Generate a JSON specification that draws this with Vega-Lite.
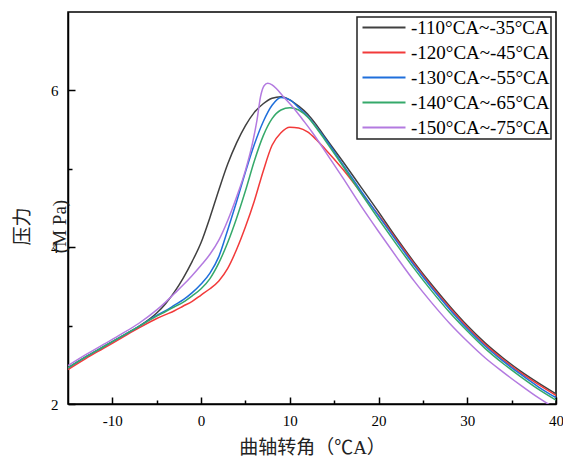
{
  "$schema": "https://vega.github.io/schema/vega-lite/v6.json",
  "width": 488,
  "height": 392,
  "autosize": {"type": "none"},
  "padding": {"left": 68, "top": 12, "right": 7, "bottom": 53},
  "background": "white",
  "config": {
    "view": {"stroke": "#000", "strokeWidth": 1.5},
    "axis": {"labelFont": "Liberation Serif", "titleFont": "Liberation Serif, Noto Sans CJK SC", "labelColor": "#000", "titleColor": "#222", "domainColor": "#000", "tickColor": "#000", "tickOpacity": 1, "domainWidth": 1.5, "tickWidth": 1.5, "grid": false, "labelFontSize": 15, "titleFontSize": 19, "titleFontWeight": "normal", "zindex": 1},
    "legend": {"labelFont": "Liberation Serif", "labelFontSize": 19, "labelColor": "#000"}
  },
  "data": {"values": [
    {"s":"-110°CA~-35°CA","x":-15,"y":2.46},{"s":"-110°CA~-35°CA","x":-13,"y":2.60},{"s":"-110°CA~-35°CA","x":-11,"y":2.73},{"s":"-110°CA~-35°CA","x":-9,"y":2.86},{"s":"-110°CA~-35°CA","x":-7,"y":2.99},{"s":"-110°CA~-35°CA","x":-5,"y":3.16},{"s":"-110°CA~-35°CA","x":-4,"y":3.28},{"s":"-110°CA~-35°CA","x":-3,"y":3.43},{"s":"-110°CA~-35°CA","x":-2,"y":3.61},{"s":"-110°CA~-35°CA","x":-1,"y":3.82},{"s":"-110°CA~-35°CA","x":0,"y":4.06},{"s":"-110°CA~-35°CA","x":1,"y":4.38},{"s":"-110°CA~-35°CA","x":2,"y":4.73},{"s":"-110°CA~-35°CA","x":3,"y":5.06},{"s":"-110°CA~-35°CA","x":4,"y":5.33},{"s":"-110°CA~-35°CA","x":5,"y":5.55},{"s":"-110°CA~-35°CA","x":6,"y":5.72},{"s":"-110°CA~-35°CA","x":7,"y":5.83},{"s":"-110°CA~-35°CA","x":8,"y":5.90},{"s":"-110°CA~-35°CA","x":9,"y":5.92},{"s":"-110°CA~-35°CA","x":10,"y":5.88},{"s":"-110°CA~-35°CA","x":11,"y":5.80},{"s":"-110°CA~-35°CA","x":12,"y":5.70},{"s":"-110°CA~-35°CA","x":13,"y":5.56},{"s":"-110°CA~-35°CA","x":14,"y":5.40},{"s":"-110°CA~-35°CA","x":16,"y":5.09},{"s":"-110°CA~-35°CA","x":18,"y":4.77},{"s":"-110°CA~-35°CA","x":20,"y":4.45},{"s":"-110°CA~-35°CA","x":22,"y":4.12},{"s":"-110°CA~-35°CA","x":24,"y":3.81},{"s":"-110°CA~-35°CA","x":26,"y":3.52},{"s":"-110°CA~-35°CA","x":28,"y":3.25},{"s":"-110°CA~-35°CA","x":30,"y":3.00},{"s":"-110°CA~-35°CA","x":32,"y":2.78},{"s":"-110°CA~-35°CA","x":34,"y":2.59},{"s":"-110°CA~-35°CA","x":36,"y":2.42},{"s":"-110°CA~-35°CA","x":38,"y":2.27},{"s":"-110°CA~-35°CA","x":40,"y":2.13},

    {"s":"-120°CA~-45°CA","x":-15,"y":2.44},{"s":"-120°CA~-45°CA","x":-13,"y":2.58},{"s":"-120°CA~-45°CA","x":-11,"y":2.71},{"s":"-120°CA~-45°CA","x":-9,"y":2.84},{"s":"-120°CA~-45°CA","x":-7,"y":2.97},{"s":"-120°CA~-45°CA","x":-5,"y":3.09},{"s":"-120°CA~-45°CA","x":-4,"y":3.14},{"s":"-120°CA~-45°CA","x":-3,"y":3.19},{"s":"-120°CA~-45°CA","x":-2,"y":3.25},{"s":"-120°CA~-45°CA","x":-1,"y":3.31},{"s":"-120°CA~-45°CA","x":0,"y":3.39},{"s":"-120°CA~-45°CA","x":1,"y":3.47},{"s":"-120°CA~-45°CA","x":2,"y":3.57},{"s":"-120°CA~-45°CA","x":3,"y":3.73},{"s":"-120°CA~-45°CA","x":4,"y":3.97},{"s":"-120°CA~-45°CA","x":5,"y":4.26},{"s":"-120°CA~-45°CA","x":6,"y":4.59},{"s":"-120°CA~-45°CA","x":7,"y":4.97},{"s":"-120°CA~-45°CA","x":8,"y":5.30},{"s":"-120°CA~-45°CA","x":9,"y":5.46},{"s":"-120°CA~-45°CA","x":10,"y":5.53},{"s":"-120°CA~-45°CA","x":11,"y":5.52},{"s":"-120°CA~-45°CA","x":12,"y":5.47},{"s":"-120°CA~-45°CA","x":13,"y":5.37},{"s":"-120°CA~-45°CA","x":14,"y":5.25},{"s":"-120°CA~-45°CA","x":16,"y":4.99},{"s":"-120°CA~-45°CA","x":18,"y":4.70},{"s":"-120°CA~-45°CA","x":20,"y":4.41},{"s":"-120°CA~-45°CA","x":22,"y":4.10},{"s":"-120°CA~-45°CA","x":24,"y":3.79},{"s":"-120°CA~-45°CA","x":26,"y":3.50},{"s":"-120°CA~-45°CA","x":28,"y":3.23},{"s":"-120°CA~-45°CA","x":30,"y":2.98},{"s":"-120°CA~-45°CA","x":32,"y":2.76},{"s":"-120°CA~-45°CA","x":34,"y":2.57},{"s":"-120°CA~-45°CA","x":36,"y":2.40},{"s":"-120°CA~-45°CA","x":38,"y":2.25},{"s":"-120°CA~-45°CA","x":40,"y":2.11},

    {"s":"-130°CA~-55°CA","x":-15,"y":2.46},{"s":"-130°CA~-55°CA","x":-13,"y":2.60},{"s":"-130°CA~-55°CA","x":-11,"y":2.73},{"s":"-130°CA~-55°CA","x":-9,"y":2.86},{"s":"-130°CA~-55°CA","x":-7,"y":2.99},{"s":"-130°CA~-55°CA","x":-5,"y":3.13},{"s":"-130°CA~-55°CA","x":-4,"y":3.19},{"s":"-130°CA~-55°CA","x":-3,"y":3.26},{"s":"-130°CA~-55°CA","x":-2,"y":3.33},{"s":"-130°CA~-55°CA","x":-1,"y":3.42},{"s":"-130°CA~-55°CA","x":0,"y":3.53},{"s":"-130°CA~-55°CA","x":1,"y":3.67},{"s":"-130°CA~-55°CA","x":2,"y":3.88},{"s":"-130°CA~-55°CA","x":3,"y":4.22},{"s":"-130°CA~-55°CA","x":4,"y":4.58},{"s":"-130°CA~-55°CA","x":5,"y":4.96},{"s":"-130°CA~-55°CA","x":6,"y":5.31},{"s":"-130°CA~-55°CA","x":7,"y":5.60},{"s":"-130°CA~-55°CA","x":8,"y":5.81},{"s":"-130°CA~-55°CA","x":9,"y":5.91},{"s":"-130°CA~-55°CA","x":10,"y":5.88},{"s":"-130°CA~-55°CA","x":11,"y":5.78},{"s":"-130°CA~-55°CA","x":12,"y":5.67},{"s":"-130°CA~-55°CA","x":13,"y":5.53},{"s":"-130°CA~-55°CA","x":14,"y":5.38},{"s":"-130°CA~-55°CA","x":16,"y":5.05},{"s":"-130°CA~-55°CA","x":18,"y":4.72},{"s":"-130°CA~-55°CA","x":20,"y":4.40},{"s":"-130°CA~-55°CA","x":22,"y":4.08},{"s":"-130°CA~-55°CA","x":24,"y":3.77},{"s":"-130°CA~-55°CA","x":26,"y":3.48},{"s":"-130°CA~-55°CA","x":28,"y":3.21},{"s":"-130°CA~-55°CA","x":30,"y":2.96},{"s":"-130°CA~-55°CA","x":32,"y":2.74},{"s":"-130°CA~-55°CA","x":34,"y":2.55},{"s":"-130°CA~-55°CA","x":36,"y":2.38},{"s":"-130°CA~-55°CA","x":38,"y":2.22},{"s":"-130°CA~-55°CA","x":40,"y":2.08},

    {"s":"-140°CA~-65°CA","x":-15,"y":2.46},{"s":"-140°CA~-65°CA","x":-13,"y":2.60},{"s":"-140°CA~-65°CA","x":-11,"y":2.73},{"s":"-140°CA~-65°CA","x":-9,"y":2.86},{"s":"-140°CA~-65°CA","x":-7,"y":2.99},{"s":"-140°CA~-65°CA","x":-5,"y":3.12},{"s":"-140°CA~-65°CA","x":-4,"y":3.18},{"s":"-140°CA~-65°CA","x":-3,"y":3.24},{"s":"-140°CA~-65°CA","x":-2,"y":3.30},{"s":"-140°CA~-65°CA","x":-1,"y":3.38},{"s":"-140°CA~-65°CA","x":0,"y":3.47},{"s":"-140°CA~-65°CA","x":1,"y":3.60},{"s":"-140°CA~-65°CA","x":2,"y":3.80},{"s":"-140°CA~-65°CA","x":3,"y":4.06},{"s":"-140°CA~-65°CA","x":4,"y":4.37},{"s":"-140°CA~-65°CA","x":5,"y":4.72},{"s":"-140°CA~-65°CA","x":6,"y":5.10},{"s":"-140°CA~-65°CA","x":7,"y":5.42},{"s":"-140°CA~-65°CA","x":8,"y":5.64},{"s":"-140°CA~-65°CA","x":9,"y":5.75},{"s":"-140°CA~-65°CA","x":10,"y":5.78},{"s":"-140°CA~-65°CA","x":11,"y":5.75},{"s":"-140°CA~-65°CA","x":12,"y":5.66},{"s":"-140°CA~-65°CA","x":13,"y":5.52},{"s":"-140°CA~-65°CA","x":14,"y":5.36},{"s":"-140°CA~-65°CA","x":16,"y":5.03},{"s":"-140°CA~-65°CA","x":18,"y":4.69},{"s":"-140°CA~-65°CA","x":20,"y":4.36},{"s":"-140°CA~-65°CA","x":22,"y":4.04},{"s":"-140°CA~-65°CA","x":24,"y":3.73},{"s":"-140°CA~-65°CA","x":26,"y":3.44},{"s":"-140°CA~-65°CA","x":28,"y":3.17},{"s":"-140°CA~-65°CA","x":30,"y":2.93},{"s":"-140°CA~-65°CA","x":32,"y":2.71},{"s":"-140°CA~-65°CA","x":34,"y":2.52},{"s":"-140°CA~-65°CA","x":36,"y":2.35},{"s":"-140°CA~-65°CA","x":38,"y":2.19},{"s":"-140°CA~-65°CA","x":40,"y":2.05},

    {"s":"-150°CA~-75°CA","x":-15,"y":2.49},{"s":"-150°CA~-75°CA","x":-13,"y":2.63},{"s":"-150°CA~-75°CA","x":-11,"y":2.76},{"s":"-150°CA~-75°CA","x":-9,"y":2.89},{"s":"-150°CA~-75°CA","x":-7,"y":3.03},{"s":"-150°CA~-75°CA","x":-5,"y":3.20},{"s":"-150°CA~-75°CA","x":-4,"y":3.30},{"s":"-150°CA~-75°CA","x":-3,"y":3.41},{"s":"-150°CA~-75°CA","x":-2,"y":3.52},{"s":"-150°CA~-75°CA","x":-1,"y":3.64},{"s":"-150°CA~-75°CA","x":0,"y":3.77},{"s":"-150°CA~-75°CA","x":1,"y":3.91},{"s":"-150°CA~-75°CA","x":2,"y":4.09},{"s":"-150°CA~-75°CA","x":3,"y":4.34},{"s":"-150°CA~-75°CA","x":4,"y":4.64},{"s":"-150°CA~-75°CA","x":5,"y":4.98},{"s":"-150°CA~-75°CA","x":5.8,"y":5.33},{"s":"-150°CA~-75°CA","x":6.3,"y":5.62},{"s":"-150°CA~-75°CA","x":6.7,"y":5.92},{"s":"-150°CA~-75°CA","x":7.1,"y":6.06},{"s":"-150°CA~-75°CA","x":7.5,"y":6.09},{"s":"-150°CA~-75°CA","x":8.0,"y":6.07},{"s":"-150°CA~-75°CA","x":8.5,"y":6.02},{"s":"-150°CA~-75°CA","x":9.2,"y":5.93},{"s":"-150°CA~-75°CA","x":10.4,"y":5.78},{"s":"-150°CA~-75°CA","x":11.5,"y":5.62},{"s":"-150°CA~-75°CA","x":12.5,"y":5.47},{"s":"-150°CA~-75°CA","x":14,"y":5.22},{"s":"-150°CA~-75°CA","x":16,"y":4.88},{"s":"-150°CA~-75°CA","x":18,"y":4.53},{"s":"-150°CA~-75°CA","x":20,"y":4.20},{"s":"-150°CA~-75°CA","x":22,"y":3.88},{"s":"-150°CA~-75°CA","x":24,"y":3.57},{"s":"-150°CA~-75°CA","x":26,"y":3.29},{"s":"-150°CA~-75°CA","x":28,"y":3.03},{"s":"-150°CA~-75°CA","x":30,"y":2.80},{"s":"-150°CA~-75°CA","x":32,"y":2.59},{"s":"-150°CA~-75°CA","x":34,"y":2.41},{"s":"-150°CA~-75°CA","x":36,"y":2.24},{"s":"-150°CA~-75°CA","x":38,"y":2.08},{"s":"-150°CA~-75°CA","x":40,"y":1.94}
  ]},
  "layer": [
    {
      "mark": {"type": "line", "interpolate": "monotone", "strokeWidth": 1.5, "clip": true},
      "encoding": {
        "x": {"field": "x", "type": "quantitative", "scale": {"domain": [-15, 40], "nice": false, "zero": false},
          "axis": {"orient": "bottom", "title": "曲轴转角（℃A）", "values": [-10, 0, 10, 20, 30, 40],
            "labelExpr": "'' + datum.value", "ticks": false, "labelPadding": 9, "titlePadding": 10, "labelFlush": false}},
        "y": {"field": "y", "type": "quantitative", "scale": {"domain": [2, 7], "nice": false, "zero": false},
          "axis": {"orient": "left", "title": ["压力", "(M Pa)"], "values": [2, 4, 6],
            "labelExpr": "'' + datum.value", "ticks": false, "labelPadding": 10,
            "titleLineHeight": 37, "titleX": -36, "titleY": 214, "titleAlign": "center", "titleBaseline": "bottom", "titleAngle": -90}},
        "color": {"field": "s", "type": "nominal",
          "scale": {"domain": ["-110°CA~-35°CA", "-120°CA~-45°CA", "-130°CA~-55°CA", "-140°CA~-65°CA", "-150°CA~-75°CA"],
            "range": ["#404040", "#f23a3a", "#1f6fdb", "#35a96a", "#b37ae0"]},
          "legend": {"title": null, "orient": "top-right", "offset": 5, "strokeColor": "#222", "padding": 1,
            "symbolType": "M-1,0L7.6,0", "symbolSize": 100, "symbolStrokeWidth": 2, "labelOffset": 34, "rowPadding": 5,
            "encode": {"legend": {"update": {"strokeWidth": {"value": 1.5}}}}}}
      }
    },
    {
      "mark": {"type": "line", "opacity": 0, "clip": true},
      "encoding": {
        "detail": {"field": "s", "type": "nominal"},
        "x": {"field": "x", "type": "quantitative",
          "axis": {"orient": "bottom", "title": null, "values": [-10, 0, 10, 20, 30, 40], "labels": false, "domain": false, "ticks": true, "tickSize": 7, "offset": -7}},
        "y": {"field": "y", "type": "quantitative",
          "axis": {"orient": "left", "title": null, "values": [2, 4, 6], "labels": false, "domain": false, "ticks": true, "tickSize": 7, "offset": -7}}
      }
    },
    {
      "mark": {"type": "line", "opacity": 0, "clip": true},
      "encoding": {
        "detail": {"field": "s", "type": "nominal"},
        "x": {"field": "x", "type": "quantitative",
          "axis": {"orient": "bottom", "title": null, "values": [-5, 5, 15, 25, 35], "labels": false, "domain": false, "ticks": true, "tickSize": 4, "offset": -4}},
        "y": {"field": "y", "type": "quantitative",
          "axis": {"orient": "left", "title": null, "values": [3, 5], "labels": false, "domain": false, "ticks": true, "tickSize": 4, "offset": -4}}
      }
    }
  ],
  "resolve": {"axis": {"x": "independent", "y": "independent"}}
}
